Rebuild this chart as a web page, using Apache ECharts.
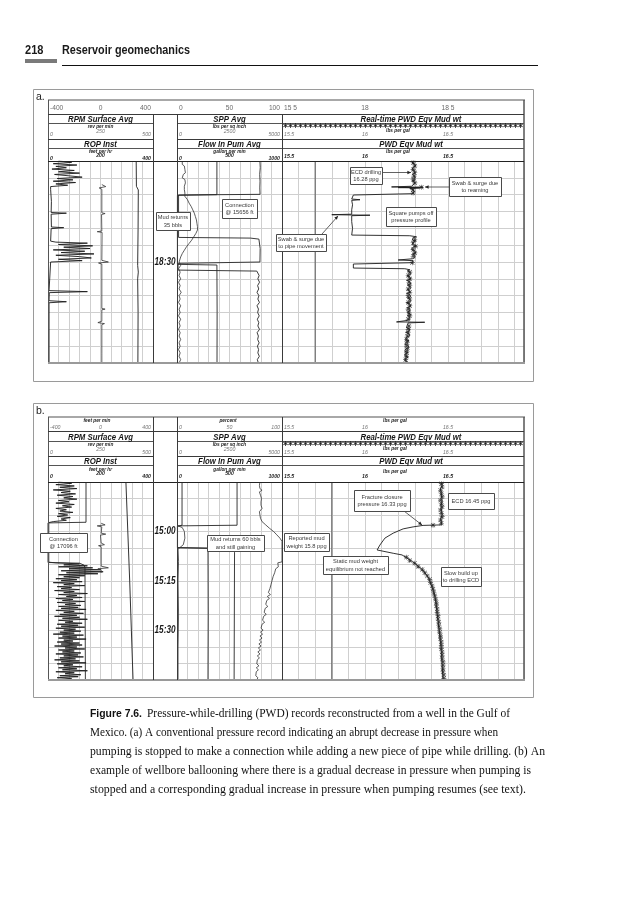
<!DOCTYPE html>
<html>
<head>
<meta charset="utf-8">
<title>PWD records</title>
<script src="https://cdn.jsdelivr.net/npm/echarts@6.0.0/dist/echarts.min.js"></script>
<style>
html,body{margin:0;padding:0;background:#fff;}
#chart{width:633px;height:900px;}
</style>
</head>
<body>
<div id="chart"></div>
<script>
// ---------------- scales and tick labels ----------------
const tripRange = [-400, 400];
const rpmRange = [0, 500];
const ropRange = [0, 400];
const pctRange = [0, 100];
const sppRange = [0, 5000];
const flowRange = [0, 1000];
const ppgRange = [15.5, 16.958];

const tripTicks = [-400, 0, 400];
const rpmTicks = [0, 250, 500];
const ropTicks = [0, 200, 400];
const pctTicks = [0, 50, 100];
const sppTicks = [0, 2500, 5000];
const flowTicks = [0, 500, 1000];
const ppgTicks = [15.5, 16, 16.5];
const ppgTickTextTopA = ['15 5', '18', '18 5'];

const timeTicksA = [30];
const timeLabelsA = ['18:30'];
const timeTicksB = [15, 30, 45];
const timeLabelsB = ['15:00', '15:15', '15:30'];

// ---------------- panel a data: [minutes after 18:00, value] ----------------
const aRop = [[0,40],[0.4,90],[0.8,20],[1.2,110],[1.6,30],[2,70],[2.4,15],[2.8,100],[3.2,40],[3.6,120],[4,25],[4.4,80],[4.8,130],[5.2,35],[5.6,95],[6,20],[6.4,105],[6.8,30],[7.2,75],[7.6,10],[8,12],[8.5,10],[12,13],[15.3,12],[15.5,70],[15.8,12],[19.6,13],[19.8,60],[20.1,12],[23.8,10],[24.1,30],[24.4,150],[24.8,40],[25.2,170],[25.6,60],[26,160],[26.4,20],[26.8,140],[27.2,50],[27.6,175],[28,30],[28.4,120],[28.8,165],[29.2,40],[29.6,130],[30,10],[30.5,4],[38.5,4],[38.8,150],[39.1,5],[41.5,4],[41.8,70],[42.1,4],[60,4]];
const aTrip = [[7,10],[7.6,40],[8,-10],[8.4,10],[15.4,10],[15.6,35],[15.9,8],[20.8,10],[21,-25],[21.2,12],[29.5,10],[30,60],[30.3,-15],[30.6,10],[43.8,10],[44,35],[44.2,10],[47.6,10],[48,-20],[48.3,30],[48.6,10],[57.3,10],[57.6,25],[57.9,10],[60,10]];
const aAux = [[0,420],[7.5,421],[8.6,430],[20,429],[31,427],[33,430],[35,427],[45,429],[60,428]];
const aFlow = [[0,790],[2,793],[4,788],[6,791],[8,789],[9.9,791],[10.1,15],[22.7,15],[22.9,700],[23.2,780],[23.6,790],[26,792],[30,790],[30.2,780],[30.4,10],[32.4,10],[32.7,760],[33,775],[34,782],[35,770],[36,786],[37,768],[38,778],[39,762],[40,780],[41,770],[42,785],[43,762],[44,776],[45,768],[46,783],[47,765],[48,779],[49,770],[50,786],[51,763],[52,775],[53,768],[54,782],[55,766],[56,777],[57,770],[58,784],[59,765],[60,775]];
const aSpp = [[0,1900],[10,1900],[10.2,20],[30.7,20],[30.9,1900],[45,1910],[60,1905]];
const aPct = [[0,5],[0.5,6.5],[1,5],[1.5,7],[2,5.5],[2.5,7.5],[3,6],[3.5,8],[4,6],[4.5,7],[5,5],[5.5,7.5],[6,6],[6.5,8],[7,6.5],[7.5,7],[8,5.5],[8.5,7],[9,6],[9.5,7.5],[10,6],[10.5,7.5],[11,8],[11.5,10],[12,9.5],[12.5,11.5],[13,12],[13.5,13.5],[14,13],[14.5,15],[15,15.5],[15.5,16.5],[16,16],[16.5,17.5],[17,17],[17.5,18.5],[18,18],[18.5,19],[19,18.5],[19.5,19.5],[20,19],[20.5,19.5],[21,18.5],[21.5,18],[22,17],[22.5,16],[23,14.5],[23.5,14],[24,12.5],[24.5,11.5],[25,10],[25.5,9],[26,8],[26.5,7],[27,5.5],[27.5,5],[28,4],[28.5,3.5],[29,3],[30,2],[31,3.5],[32,1.5],[33,3],[34,2],[35,3.5],[36,1.5],[37,3],[38,2],[39,4],[40,2],[41,3],[42,1.5],[43,3.5],[44,2],[45,3],[46,1.5],[47,3.5],[48,2],[49,3],[50,1.5],[51,3],[52,2],[53,3.5],[54,2],[55,3],[56,1.5],[57,3],[58,2],[59,3.5],[60,2]];
const aPwd = [[0,16.29],[0.3,16.30],[0.6,16.285],[0.9,16.30],[1.2,16.29],[1.5,16.305],[1.8,16.29],[2.1,16.30],[2.4,16.285],[2.7,16.295],[3,16.30],[3.3,16.29],[3.6,16.30],[3.9,16.285],[4.2,16.295],[4.5,16.30],[4.8,16.29],[5.1,16.30],[5.4,16.29],[5.7,16.30],[6,16.285],[6.3,16.30],[6.6,16.29],[6.9,16.295],[7.2,16.29],[7.5,16.28],[7.7,16.16],[7.8,16.35],[7.9,16.20],[8.0,16.33],[8.2,16.27],[8.5,16.29],[8.8,16.28],[9.1,16.295],[9.4,16.285],[9.7,16.29],[10.1,15.93],[10.5,15.92],[11.3,15.92],[11.5,15.97],[11.7,15.92],[13,15.925],[14.5,15.92],[15.8,15.92],[15.95,15.80],[16.1,16.03],[16.25,15.92],[18,15.92],[20,15.925],[22,15.92],[22.2,16.27],[22.5,16.31],[22.8,16.29],[23.1,16.30],[23.45,16.285],[23.8,16.305],[24.15,16.29],[24.5,16.30],[24.85,16.285],[25.2,16.31],[25.55,16.29],[25.9,16.30],[26.25,16.28],[26.6,16.30],[26.95,16.29],[27.3,16.305],[27.65,16.285],[28,16.30],[28.35,16.29],[28.7,16.30],[29.05,16.285],[29.4,16.20],[29.6,16.29],[29.9,16.30],[30.2,16.285],[30.45,16.28],[30.6,15.93],[31.8,15.93],[32,16.24],[32.3,16.27],[32.65,16.255],[33,16.27],[33.35,16.26],[33.7,16.275],[34.05,16.255],[34.4,16.27],[34.75,16.26],[35.1,16.275],[35.45,16.25],[35.8,16.27],[36.15,16.26],[36.5,16.275],[36.85,16.255],[37.2,16.27],[37.55,16.26],[37.9,16.275],[38.25,16.255],[38.6,16.265],[38.95,16.275],[39.3,16.25],[39.65,16.27],[40,16.26],[40.35,16.275],[40.7,16.255],[41.05,16.27],[41.4,16.26],[41.75,16.275],[42.1,16.25],[42.45,16.27],[42.8,16.26],[43.15,16.275],[43.5,16.255],[43.85,16.27],[44.2,16.26],[44.55,16.27],[44.9,16.255],[45.25,16.265],[45.6,16.275],[45.95,16.255],[46.3,16.27],[46.65,16.26],[47,16.27],[47.35,16.255],[47.6,16.26],[47.8,16.19],[47.9,16.36],[48.1,16.26],[48.45,16.27],[48.8,16.255],[49.15,16.265],[49.5,16.25],[49.85,16.27],[50.2,16.26],[50.55,16.265],[50.9,16.245],[51.25,16.265],[51.6,16.255],[51.95,16.27],[52.3,16.25],[52.65,16.26],[53,16.245],[53.35,16.265],[53.7,16.25],[54.05,16.26],[54.4,16.24],[54.75,16.26],[55.1,16.25],[55.45,16.265],[55.8,16.245],[56.15,16.255],[56.5,16.24],[56.85,16.26],[57.2,16.245],[57.55,16.255],[57.9,16.24],[58.25,16.26],[58.6,16.245],[58.95,16.25],[59.3,16.24],[59.65,16.255],[60,16.245]];
const aRt = [[0.5,16.29],[1.5,16.30],[2.5,16.29],[3.5,16.30],[4.5,16.295],[5.5,16.29],[6.5,16.30],[7.8,16.34],[8.6,16.29],[9.5,16.29],[23.3,16.30],[24.3,16.29],[25.3,16.305],[26.3,16.29],[27.3,16.30],[28.3,16.29],[30.2,16.285],[33,16.27],[34,16.26],[35,16.27],[36,16.265],[37,16.27],[38,16.26],[39,16.27],[40,16.26],[41,16.27],[42,16.26],[43,16.27],[44,16.26],[45,16.265],[46,16.27],[47,16.26],[49,16.265],[50,16.26],[51,16.26],[52,16.255],[53,16.25],[54,16.255],[55,16.25],[56,16.255],[57,16.25],[58,16.25],[59,16.245]];
const aMudWt = [[0,15.7],[60,15.7]];

// ---------------- panel b data: [minutes after 14:45, value] ----------------
const bRop = [[0,40],[0.4,90],[0.8,30],[1.2,100],[1.6,45],[2,110],[2.4,20],[2.8,85],[3.2,50],[3.6,105],[4,35],[4.4,95],[4.8,60],[5.2,110],[5.6,40],[6,80],[6.4,30],[6.8,100],[7.2,55],[7.6,90],[8,30],[8.4,70],[8.8,45],[9.2,95],[9.6,40],[10,75],[10.4,35],[10.8,85],[11.2,50],[11.6,70],[12,20],[12.3,3],[24.3,3],[24.5,30],[24.8,120],[25.1,60],[25.4,150],[25.7,40],[26,170],[26.3,80],[26.6,200],[26.9,50],[27.2,210],[27.5,70],[27.8,190],[28.1,40],[28.4,140],[28.7,60],[29,120],[29.3,30],[29.6,110],[29.9,50],[30.2,130],[30.5,20],[30.8,100],[31.1,60],[31.4,140],[31.7,35],[32,90],[32.3,50],[32.6,120],[32.9,25],[33.2,100],[33.5,60],[33.8,150],[34.1,40],[34.4,110],[34.7,70],[35,130],[35.3,30],[35.6,95],[35.9,55],[36.2,140],[36.5,35],[36.8,105],[37.1,65],[37.4,125],[37.7,40],[38,115],[38.3,50],[38.6,145],[38.9,30],[39.2,100],[39.5,60],[39.8,135],[40.1,45],[40.4,110],[40.7,25],[41,120],[41.3,55],[41.6,150],[41.9,40],[42.2,95],[42.5,65],[42.8,130],[43.1,35],[43.4,115],[43.7,50],[44,140],[44.3,30],[44.6,105],[44.9,60],[45.2,125],[45.5,45],[45.8,100],[46.1,20],[46.4,135],[46.7,55],[47,110],[47.3,40],[47.6,145],[47.9,60],[48.2,95],[48.5,35],[48.8,120],[49.1,50],[49.4,130],[49.7,25],[50,110],[50.3,65],[50.6,140],[50.9,40],[51.2,100],[51.5,55],[51.8,125],[52.1,30],[52.4,115],[52.7,60],[53,135],[53.3,45],[53.6,105],[53.9,25],[54.2,120],[54.5,50],[54.8,145],[55.1,35],[55.4,95],[55.7,60],[56,130],[56.3,40],[56.6,110],[56.9,55],[57.2,150],[57.5,30],[57.8,100],[58.1,65],[58.4,125],[58.7,45],[59,115],[59.3,35],[59.6,90],[60,50]];
const bRpm = [[0,181],[12.2,181],[12.4,0],[24.4,0],[24.6,150],[25.2,172],[26,176],[40,177],[60,178]];
const bTrip = [[12.5,5],[13,35],[13.3,-25],[13.6,10],[15.5,5],[15.8,40],[16.1,0],[18.5,5],[19,30],[19.3,-15],[19.6,5],[25.5,5],[26,60],[26.3,-20],[26.6,5],[27.5,5]];
const bAux = [[0,371],[30,389],[60,405]];
const bSpp = [[0,2860],[13.1,2860],[13.3,20],[19.9,20],[20.1,2520],[21.3,2740],[40,2730],[60,2720]];
const bFlow = [[0,48],[13.1,48],[13.4,5],[19.9,5],[20.1,295],[40,297],[60,295]];
const bPctLow = [[13.3,1],[13.8,5],[15,7],[17,7.5],[19,6],[19.8,3],[20.3,1],[24,1.5],[30,1],[40,1.5],[50,1],[60,1]];
const bPct = [[0,79],[0.5,80.5],[1,78.5],[1.5,80],[2,79],[2.5,81],[3,78.5],[3.5,80],[4,79.5],[4.5,78],[5,80.5],[5.5,79],[6,80],[6.5,78.5],[7,80],[7.5,79],[8,81],[8.5,79.5],[9,78.5],[9.5,80],[10,79],[10.5,80.5],[11,79.5],[11.5,80],[12,81],[12.5,82],[13,84.5],[13.5,85.5],[14,88],[14.5,89.5],[15,92],[15.5,92.5],[16,95],[16.5,96],[17,98],[17.5,98.5],[18,100],[24.2,100],[24.5,96],[25.1,94.5],[25.7,96.5],[26.3,94],[26.9,95.5],[27.5,93],[28.1,94.5],[28.7,91.5],[29.3,93],[29.9,90.5],[30.5,92],[31.1,89.5],[31.7,91],[32.3,88.5],[32.9,90],[33.5,87],[34.1,89],[34.7,86],[35.3,88],[35.9,85.5],[36.5,87],[37.1,84.5],[37.7,86.5],[38.3,84],[38.9,85.5],[39.5,83],[40.1,85],[40.7,82.5],[41.3,84],[41.9,81.5],[42.5,83.5],[43.1,81],[43.7,82.5],[44.3,80],[44.9,82],[45.5,79.5],[46.1,81.5],[46.7,79],[47.3,81],[47.9,78.5],[48.5,80.5],[49.1,78],[49.7,80],[50.3,77.5],[50.9,79.5],[51.5,77],[52.1,79],[52.7,76.5],[53.3,78.5],[53.9,76.5],[54.5,78],[55.1,76],[55.7,78],[56.3,75.5],[56.9,77.5],[57.5,75.5],[58.1,77],[58.7,75],[59.3,77],[60,76]];
const bPwd = [[0,16.462],[0.5,16.458],[1,16.465],[1.5,16.46],[2,16.455],[2.5,16.463],[3,16.458],[3.5,16.466],[4,16.46],[4.5,16.455],[5,16.462],[5.5,16.458],[6,16.465],[6.5,16.46],[7,16.457],[7.5,16.463],[8,16.46],[8.5,16.455],[9,16.462],[9.5,16.458],[10,16.465],[10.5,16.46],[11,16.457],[11.5,16.463],[12,16.46],[12.5,16.458],[13,16.46],[13.15,16.35],[13.6,16.29],[14.2,16.23],[15.5,16.17],[17,16.12],[19.1,16.09],[20.6,16.073],[21.2,16.07],[21.6,16.17],[22.1,16.223],[23.6,16.271],[25.2,16.313],[26.7,16.349],[28.8,16.38],[30.3,16.393],[31.8,16.404],[33.3,16.414],[34.8,16.422],[37,16.428],[39.7,16.434],[42,16.44],[44.8,16.446],[47.5,16.452],[50,16.458],[52.5,16.461],[54.8,16.464],[57.5,16.467],[60,16.47]];
const bRt = [[0.5,16.46],[1.5,16.465],[2.5,16.455],[3.5,16.46],[4.5,16.465],[5.5,16.455],[6.5,16.46],[7.5,16.465],[8.5,16.455],[9.5,16.46],[10.5,16.465],[11.5,16.455],[12.5,16.46],[13.1,16.41],[22.8,16.25],[23.8,16.27],[24.6,16.30],[25.6,16.32],[26.5,16.345],[27.5,16.36],[28.5,16.375],[29.5,16.39],[30.5,16.395],[31.5,16.405],[32.5,16.41],[33.5,16.415],[34.5,16.42],[35.5,16.425],[36.5,16.43],[37.5,16.43],[38.5,16.435],[39.5,16.435],[40.5,16.44],[41.5,16.44],[42.5,16.445],[43.5,16.445],[44.5,16.45],[45.5,16.45],[46.5,16.455],[47.5,16.455],[48.5,16.46],[49.5,16.46],[50.5,16.46],[51.5,16.465],[52.5,16.465],[53.5,16.465],[54.5,16.47],[55.5,16.47],[56.5,16.47],[57.5,16.47],[58.5,16.475],[59.5,16.475]];
const bMudWt = [[0,15.8],[60,15.8]];

const captionHead = 'Figure 7.6.';
const captionLines = [
  'Pressure-while-drilling (PWD) records reconstructed from a well in the Gulf of',
  'Mexico. (a) A conventional pressure record indicating an abrupt decrease in pressure when',
  'pumping is stopped to make a connection while adding a new piece of pipe while drilling. (b) An',
  'example of wellbore ballooning where there is a gradual decrease in pressure when pumping is',
  'stopped and a corresponding gradual increase in pressure when pumping resumes (see text).'
];

// ---------------- layout ----------------
const FS = "'Liberation Sans', Arial, sans-serif";
const INK = '#2a2a2a';
const GRIDC = '#cfcfcf';
const T1 = [48, 153], TD = [153, 177], T2 = [177, 282], T3 = [282, 524];
const STAR = 'path://M4.4,0H5.6V10H4.4Z M0,4.4H10V5.6H0Z M1.3,0.5L9.5,8.7L8.7,9.5L0.5,1.3Z M8.7,0.5L9.5,1.3L1.3,9.5L0.5,8.7Z';

const panels = [
  {key:'A', outer:[33,89,533,381], innerTop:100, top:161, bottom:363, label:'a.', labelY:97,
   ticks:timeTicksA, tickText:timeLabelsA,
   H:{row1:108, l1:114, t1:119, ul1:123.5, u1:126.6, n1m:131, n1e:134.6, l2:139, t2:144, ul2:148.5, u2:151.4, n2m:155.6, n2e:158.3, star:123.3, pu1:130, pn1:134.4, pu2:151.6, pn2:156.6},
   d:{rop:aRop, trip:aTrip, aux:aAux, flow:aFlow, spp:aSpp, pct:aPct, pwd:aPwd, rt:aRt, mw:aMudWt}},
  {key:'B', outer:[33,403,533,697], innerTop:417, top:482, bottom:680, label:'b.', labelY:411,
   ticks:timeTicksB, tickText:timeLabelsB,
   H:{r1u:420.8, r1n:427, l1:431.5, t1:437, ul1:441.5, u1:444.8, n1m:449, n1e:452.4, l2:456, t2:461, ul2:465.5, u2:469.2, n2m:473.2, n2e:476.6, star:441.3, pu1:448, pn1:452.4, pu2:471.2, pn2:476.4},
   d:{rop:bRop, rpm:bRpm, trip:bTrip, aux:bAux, flow:bFlow, spp:bSpp, pct:bPct, pctLow:bPctLow, pwd:bPwd, rt:bRt, mw:bMudWt}}
];

const grid = [], xAxis = [], yAxis = [], series = [];
function addGrid(tr, P) {
  grid.push({left: tr[0], top: P.top, width: tr[1]-tr[0], height: P.bottom-P.top, show:false});
  return grid.length - 1;
}
function addX(gi, range, split, interval) {
  xAxis.push({gridIndex: gi, type:'value', min: range[0], max: range[1], interval: interval,
    show: !!split, axisLine:{show:false}, axisTick:{show:false}, axisLabel:{show:false},
    splitLine:{show: !!split, lineStyle:{color: GRIDC, width: 1}}});
  return xAxis.length - 1;
}
function addY(gi, split) {
  yAxis.push({gridIndex: gi, type:'value', min:0, max:60, interval:5, inverse:true,
    show:true, axisLine:{show:false}, axisTick:{show:false}, axisLabel:{show:false},
    splitLine:{show: split, lineStyle:{color: GRIDC, width: 1}}});
  return yAxis.length - 1;
}
function lineS(xi, yi, arr, color, w, z) {
  series.push({type:'line', xAxisIndex: xi, yAxisIndex: yi, data: arr.map(p => [p[1], p[0]]),
    showSymbol:false, symbol:'none', silent:true, animation:false, z: z || 3,
    lineStyle:{color: color || INK, width: w || 0.9}});
}
function starS(xi, yi, arr) {
  series.push({type:'scatter', xAxisIndex: xi, yAxisIndex: yi, data: arr.map(p => [p[1], p[0]]),
    symbol: STAR, symbolSize: 5, silent:true, animation:false, z:4, itemStyle:{color:'#1e1e1e'}});
}

panels.forEach(P => {
  const g1 = addGrid(T1, P), gd = addGrid(TD, P), g2 = addGrid(T2, P), g3 = addGrid(T3, P);
  const y1 = addY(g1, true), yd = addY(gd, false), y2 = addY(g2, true), y3 = addY(g3, true);
  P.yd = yd;
  P.x = {
    g1: addX(g1, [0,10], true, 1),
    rop: addX(g1, ropRange), rpm: addX(g1, rpmRange), trip: addX(g1, tripRange),
    gd: addX(gd, [0,1]),
    g2: addX(g2, [0,10], true, 1),
    spp: addX(g2, sppRange), flow: addX(g2, flowRange), pct: addX(g2, pctRange),
    ppg: addX(g3, ppgRange, true, 0.1)
  };
  const d = P.d, X = P.x;
  lineS(X.rop, y1, d.rop, '#1c1c1c', 0.9);
  if (d.rpm) lineS(X.rpm, y1, d.rpm, '#262626', 0.9);
  lineS(X.trip, y1, d.trip, '#333', 0.8);
  lineS(X.rpm, y1, d.aux, '#333', 1);
  lineS(X.flow, y2, d.flow, '#262626', 0.9);
  lineS(X.spp, y2, d.spp, '#262626', 0.9);
  lineS(X.pct, y2, d.pct, '#333', 0.8);
  if (d.pctLow) lineS(X.pct, y2, d.pctLow, '#333', 0.8);
  lineS(X.ppg, y3, d.mw, '#6a6a6a', 1.2, 2);
  lineS(X.ppg, y3, d.pwd, '#1c1c1c', 0.9);
  starS(X.ppg, y3, d.rt);
});

const chart = echarts.init(document.getElementById('chart'), null, {renderer:'canvas', width:633, height:900});
chart.setOption({backgroundColor:'#ffffff', animation:false, grid, xAxis, yAxis, series});

// ---------------- graphic helpers ----------------
const measureCtx = document.createElement('canvas').getContext('2d');
function fit(text, font, target) { measureCtx.font = font; return target / measureCtx.measureText(text).width; }
function crisp(v, w) { return (Math.round(w) % 2 === 1) ? Math.floor(v) + 0.5 : Math.round(v); }
function hl(x1, x2, y, c, w, z) {
  const yy = crisp(y, w || 1);
  return {type:'line', silent:true, z: z || 50, shape:{x1:x1, y1:yy, x2:x2, y2:yy}, style:{stroke: c || '#333', lineWidth: w || 1}};
}
function vl(x, y1, y2, c, w, z) {
  const xx = crisp(x, w || 1);
  return {type:'line', silent:true, z: z || 50, shape:{x1:xx, y1:y1, x2:xx, y2:y2}, style:{stroke: c || '#333', lineWidth: w || 1}};
}
function tx(x, y, text, o) {
  o = o || {};
  const st = {text: text, x:0, y:0, fontSize: o.fs || 7, fontFamily: o.ff || FS, fontWeight: o.fw || 'normal',
    fontStyle: o.it ? 'italic' : 'normal', fill: o.c || '#222', align: o.al || 'center', verticalAlign: o.va || 'middle'};
  if (o.lh) st.lineHeight = o.lh;
  return {type:'text', x: x, y: y, scaleX: o.sx || 1, scaleY: 1, z: o.z || 60, silent:true, style: st};
}
function boxNote(x1, y1, x2, y2, text) {
  return [
    {type:'rect', silent:true, z:100, shape:{x: x1 + 0.5, y: y1 + 0.5, width: x2 - x1, height: y2 - y1}, style:{fill:'#fff', stroke:'#4a4a4a', lineWidth:1}},
    tx((x1 + x2) / 2, (y1 + y2) / 2 + 0.5, text, {fs:6, lh:7.6, c:'#3a3a3a', z:101, sx:0.95})
  ];
}
function arrow(x1, y1, x2, y2) {
  const a = Math.atan2(y2 - y1, x2 - x1), s = 4;
  const p1 = [x2 - s * Math.cos(a - 0.45), y2 - s * Math.sin(a - 0.45)];
  const p2 = [x2 - s * Math.cos(a + 0.45), y2 - s * Math.sin(a + 0.45)];
  return [
    {type:'line', silent:true, z:99, shape:{x1:x1, y1:y1, x2:x2, y2:y2}, style:{stroke:'#3a3a3a', lineWidth:0.8}},
    {type:'polygon', silent:true, z:99, shape:{points:[[x2, y2], p1, p2]}, style:{fill:'#222'}}
  ];
}
const px = (xi, v) => chart.convertToPixel({xAxisIndex: xi}, v);
const py = (yi, v) => chart.convertToPixel({yAxisIndex: yi}, v);
function fmt(v) { return String(v); }

const G = [];
// page header
G.push(tx(25, 50, '218', {fs:13, fw:'bold', al:'left', sx:0.85, c:'#1a1a1a'}));
G.push(tx(62, 50, 'Reservoir geomechanics', {fs:13, fw:'bold', al:'left', sx: fit('Reservoir geomechanics', "bold 13px 'Liberation Sans'", 128), c:'#1a1a1a'}));
G.push({type:'rect', silent:true, z:50, shape:{x:25, y:59, width:32, height:4}, style:{fill:'#7a7a7a'}});
G.push(hl(62, 538, 65, '#111', 1));

function tickRow(xi, tr, ticks, texts, y, o) {
  ticks.forEach((v, i) => {
    const x = px(xi, v);
    let al = 'center', xx = x;
    if (Math.abs(x - tr[0]) < 1.5) { al = 'left'; xx = tr[0] + 2; }
    else if (Math.abs(x - tr[1]) < 1.5) { al = 'right'; xx = tr[1] - 2; }
    G.push(tx(xx, y, texts ? texts[i] : fmt(v), Object.assign({al: al}, o)));
  });
}

const titleO = {fs:9.5, fw:'bold', it:true, sx:0.82, c:'#161616'};
const unitO = {fs:5.8, fw:'bold', it:true, sx:0.82, c:'#1e1e1e'};
const numGray = {fs:5.8, it:true, sx:0.9, c:'#777'};
const numDark = {fs:5.8, fw:'bold', it:true, sx:0.9, c:'#1e1e1e'};
const starText = '*'.repeat(48);
const starFont = "bold 10px 'DejaVu Sans'";
const starSx = fit(starText, starFont, T3[1] - T3[0] - 2);

panels.forEach(P => {
  const H = P.H, X = P.x, o = P.outer;
  // outer and inner frames
  G.push({type:'rect', silent:true, z:40, shape:{x:o[0] + 0.5, y:o[1] + 0.5, width:o[2] - o[0], height:o[3] - o[1]}, style:{fill:'none', stroke:'#9a9a9a', lineWidth:1}});
  G.push(tx(o[0] + 3, P.labelY, P.label, {fs:10.5, al:'left', c:'#222'}));
  G.push(hl(T1[0], T3[1] + 1, P.innerTop, '#a8a8a8', 2));
  G.push(vl(T1[0], P.innerTop, P.bottom, '#555', 1));
  G.push(vl(T3[1], P.innerTop, P.bottom, '#555', 1.5));
  G.push(hl(T1[0], T3[1] + 1, P.bottom, '#9a9a9a', 2));
  // header lines
  G.push(hl(T1[0], T3[1], H.l1, '#3a3a3a', 1));
  [T1, T2, T3].forEach(tr => {
    G.push(hl(tr[0], tr[1], H.ul1, '#555', 1));
    G.push(hl(tr[0], tr[1], H.l2, '#3a3a3a', 1));
    G.push(hl(tr[0], tr[1], H.ul2, '#555', 1));
  });
  G.push(hl(T1[0], T3[1], P.top, '#222', 1));
  const vTop = P.key === 'A' ? H.l1 : P.innerTop;
  [T1[1], TD[1]].forEach(x => G.push(vl(x, vTop, P.bottom, '#3a3a3a', 1)));
  G.push(vl(T3[0], vTop, P.bottom, '#3a3a3a', 1));

  // top scale row
  if (P.key === 'A') {
    const r1 = {fs:7, c:'#6a6a6a', sx:0.95};
    tickRow(X.trip, T1, tripTicks, null, H.row1, r1);
    tickRow(X.pct, T2, pctTicks, null, H.row1, r1);
    tickRow(X.ppg, T3, ppgTicks, ppgTickTextTopA, H.row1, r1);
  } else {
    G.push(tx(97, H.r1u, 'feet per min', unitO));
    G.push(tx(228, H.r1u, 'percent', unitO));
    G.push(tx(395, H.r1u, 'lbs per gal', unitO));
    tickRow(X.trip, T1, tripTicks, null, H.r1n, numGray);
    tickRow(X.pct, T2, pctTicks, null, H.r1n, numGray);
    tickRow(X.ppg, T3, ppgTicks, null, H.r1n, numGray);
  }
  const c1 = (T1[0] + T1[1]) / 2, c2 = (T2[0] + T2[1]) / 2;
  // track 1
  G.push(tx(c1, H.t1, 'RPM Surface Avg', titleO));
  G.push(tx(c1, H.u1, 'rev per min', unitO));
  tickRow(X.rpm, T1, [rpmTicks[1]], null, H.n1m, numGray);
  tickRow(X.rpm, T1, [rpmTicks[0], rpmTicks[2]], null, H.n1e, numGray);
  G.push(tx(c1, H.t2, 'ROP Inst', titleO));
  G.push(tx(c1, H.u2, 'feet per hr', unitO));
  tickRow(X.rop, T1, [ropTicks[1]], null, H.n2m, numDark);
  tickRow(X.rop, T1, [ropTicks[0], ropTicks[2]], null, H.n2e, numDark);
  // track 2
  G.push(tx(c2, H.t1, 'SPP Avg', titleO));
  G.push(tx(c2, H.u1, 'lbs per sq inch', unitO));
  tickRow(X.spp, T2, [sppTicks[1]], null, H.n1m, numGray);
  tickRow(X.spp, T2, [sppTicks[0], sppTicks[2]], null, H.n1e, numGray);
  G.push(tx(c2, H.t2, 'Flow In Pum Avg', titleO));
  G.push(tx(c2, H.u2, 'gallon per min', unitO));
  tickRow(X.flow, T2, [flowTicks[1]], null, H.n2m, numDark);
  tickRow(X.flow, T2, [flowTicks[0], flowTicks[2]], null, H.n2e, numDark);
  // track 3
  G.push(tx(411, H.t1, 'Real-time PWD Eqv Mud wt', titleO));
  G.push(tx(T3[0] + 1, H.star, starText, {fs:10, fw:'bold', ff:"'DejaVu Sans'", al:'left', va:'top', c:'#1e1e1e', sx: starSx}));
  G.push(tx(P.key === 'A' ? 398 : 395, H.pu1, 'lbs per gal', unitO));
  tickRow(X.ppg, T3, ppgTicks, null, H.pn1, numGray);
  G.push(tx(411, H.t2, 'PWD Eqv Mud wt', titleO));
  G.push(tx(P.key === 'A' ? 398 : 395, H.pu2, 'lbs per gal', unitO));
  tickRow(X.ppg, T3, ppgTicks, null, H.pn2, numDark);
  // time labels in depth track
  P.ticks.forEach((t, i) => {
    G.push(tx(TD[1] - 1.5, py(P.yd, t), P.tickText[i], {fs:10.5, fw:'bold', it:true, al:'right', sx:0.78, c:'#1a1a1a'}));
  });
});

// annotations
[].concat(
  boxNote(350, 167, 382, 184, 'ECD drilling\n16.28 ppg'),
  arrow(382, 172.5, 411, 172.5),
  boxNote(449, 177, 501, 196, 'Swab & surge due\nto reaming'),
  arrow(449, 187, 425, 187),
  boxNote(386, 207, 436, 226, 'Square pumps off\npressure profile'),
  boxNote(276, 234, 326, 251, 'Swab & surge due\nto pipe movement'),
  arrow(322, 234, 338, 216),
  boxNote(222, 199, 257, 218, 'Connection\n@ 15656 ft'),
  boxNote(156, 212, 190, 230, 'Mud returns\n35 bbls'),
  boxNote(40, 533, 87, 552, 'Connection\n@ 17096 ft'),
  boxNote(207, 535, 264, 551, 'Mud returns 60 bbls\nand still gaining'),
  boxNote(284, 533, 329, 551, 'Reported mud\nweight 15.8 ppg'),
  boxNote(354, 490, 410, 511, 'Fracture closure\npressure 16.33 ppg'),
  arrow(404, 511, 422, 525),
  boxNote(448, 493, 494, 509, 'ECD 16.45 ppg'),
  boxNote(323, 556, 388, 574, 'Static mud weight\nequilibrium not reached'),
  boxNote(441, 567, 481, 586, 'Slow build up\nto drilling ECD')
).forEach(e => G.push(e));

// caption
const capTargets = [[147, 510], [90, 498], [90, 545], [90, 531], [90, 526]];
const capY = [714, 733, 752, 771, 790];
G.push(tx(90, capY[0], captionHead, {fs:11.5, fw:'bold', al:'left', sx: fit(captionHead, "bold 11.5px 'Liberation Sans'", 52), c:'#111'}));
captionLines.forEach((line, i) => {
  const f = "11.5px 'Liberation Serif'";
  const sx = fit(line, f, capTargets[i][1] - capTargets[i][0]);
  G.push(tx(capTargets[i][0], capY[i], line, {fs:11.5, ff:"'Liberation Serif', 'Times New Roman', serif", al:'left', sx: sx, c:'#111'}));
});

chart.setOption({graphic: {elements: G}});
</script>
</body>
</html>
